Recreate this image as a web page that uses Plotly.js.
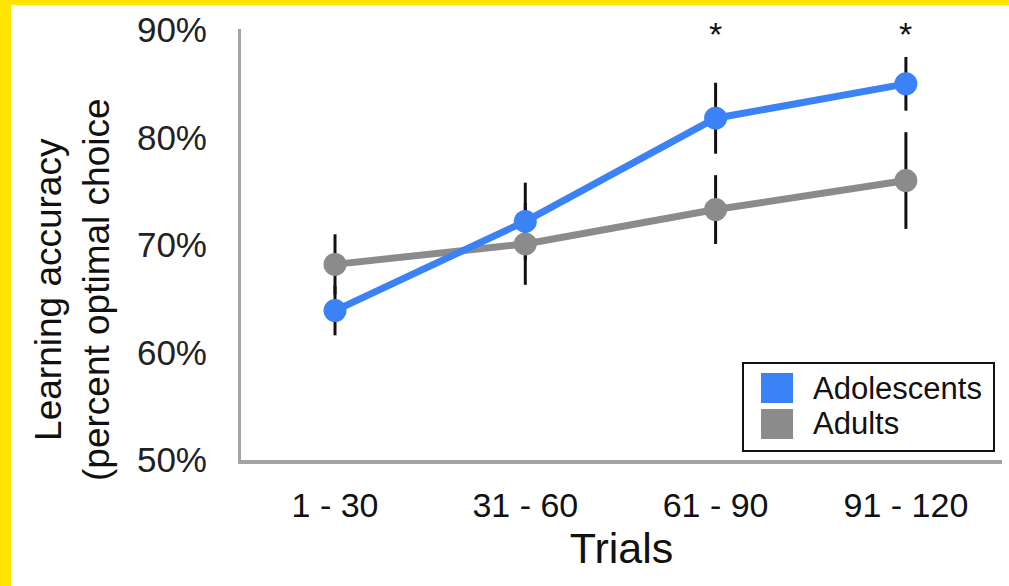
<!DOCTYPE html>
<html>
<head>
<meta charset="utf-8">
<script src="https://cdn.plot.ly/plotly-3.0.1.min.js"></script>
<style>
  html, body { margin: 0; padding: 0; background: #fff; }
  #wrap { position: relative; width: 1009px; height: 586px; overflow: hidden; }
  #chart { position: absolute; left: 0; top: 0; width: 1009px; height: 586px; }
  .yb { position: absolute; background: #FFE500; }
</style>
</head>
<body>
<div id="wrap">
  <div id="chart"></div>
  <div class="yb" style="left:0;top:0;width:1009px;height:5px;"></div>
  <div class="yb" style="left:0;top:0;width:11px;height:586px;"></div>
</div>
<script>
// ---- data ----
const categories = ['1 - 30', '31 - 60', '61 - 90', '91 - 120'];
const adolescents = [63.9, 72.2, 81.8, 85.0];
const adolescentsErr = [2.3, 3.6, 3.3, 2.5];
const adults = [68.2, 70.1, 73.3, 76.0];
const adultsErr = [2.8, 3.8, 3.2, 4.5];
const seriesNames = ['Adolescents', 'Adults'];
const yTickVals = [50, 60, 70, 80, 90];
const yTickText = ['50%', '60%', '70%', '80%', '90%'];
const significant = ['61 - 90', '91 - 120'];

const BLUE = '#3c82f7';
const GRAY = '#8b8b8b';
const FONT = 'Liberation Sans, Arial, Helvetica, sans-serif';

const traces = [
  // adolescents error bars (drawn underneath everything)
  {
    x: categories, y: adolescents, type: 'scatter', mode: 'markers',
    marker: { size: 1, color: 'rgba(0,0,0,0)' },
    error_y: { type: 'data', array: adolescentsErr, visible: true, color: '#111', thickness: 3, width: 0 },
    showlegend: false, hoverinfo: 'skip'
  },
  {
    x: categories, y: adults, type: 'scatter', mode: 'lines+markers', name: seriesNames[1],
    line: { color: GRAY, width: 7 },
    marker: { color: GRAY, size: 23 },
    error_y: { type: 'data', array: adultsErr, visible: true, color: '#111', thickness: 3, width: 0 },
    showlegend: false, hoverinfo: 'skip'
  },
  {
    x: categories, y: adolescents, type: 'scatter', mode: 'lines+markers', name: seriesNames[0],
    line: { color: BLUE, width: 7 },
    marker: { color: BLUE, size: 23 },
    showlegend: false, hoverinfo: 'skip'
  }
];

// px -> paper helpers for the hand-drawn legend box
const PL = 241, PR = 1002, PT = 29, PB = 460;
const px = v => (v - PL) / (PR - PL);
const py = v => (PB - v) / (PB - PT);

const shapes = [
  { type: 'rect', xref: 'paper', yref: 'paper', x0: px(743), x1: px(994), y0: py(451), y1: py(363),
    line: { color: '#111', width: 2 }, fillcolor: 'rgba(255,255,255,0)' },
  { type: 'rect', xref: 'paper', yref: 'paper', x0: px(761), x1: px(793), y0: py(403), y1: py(373),
    line: { width: 0 }, fillcolor: BLUE },
  { type: 'rect', xref: 'paper', yref: 'paper', x0: px(761), x1: px(793), y0: py(439), y1: py(409),
    line: { width: 0 }, fillcolor: GRAY }
];

const annotations = [
  { xref: 'paper', yref: 'paper', x: px(811), y: py(388), xanchor: 'left', yanchor: 'middle',
    text: seriesNames[0], showarrow: false, font: { family: FONT, size: 31, color: '#111' } },
  { xref: 'paper', yref: 'paper', x: px(811), y: py(423), xanchor: 'left', yanchor: 'middle',
    text: seriesNames[1], showarrow: false, font: { family: FONT, size: 31, color: '#111' } },
  { xref: 'paper', yref: 'paper', x: px(72), y: py(290), xanchor: 'center', yanchor: 'middle',
    textangle: -90, text: 'Learning accuracy<br>(percent optimal choice', showarrow: false,
    font: { family: FONT, size: 37, color: '#111' } }
].concat(significant.map(c => ({
  xref: 'x', yref: 'paper', x: c, y: py(34), xanchor: 'center', yanchor: 'middle',
  text: '*', showarrow: false, font: { family: FONT, size: 34, color: '#111' }
})));

const layout = {
  width: 1009, height: 586,
  margin: { l: PL, r: 1009 - PR, t: PT, b: 586 - PB, pad: 0 },
  paper_bgcolor: '#fff', plot_bgcolor: '#fff',
  showlegend: false,
  font: { family: FONT, color: '#111' },
  xaxis: {
    type: 'category', categoryorder: 'array', categoryarray: categories,
    range: [-0.494, 3.505], showgrid: false, zeroline: false,
    showline: true, linecolor: '#a3a3a3', linewidth: 4,
    ticks: 'outside', ticklen: 12, tickcolor: 'rgba(0,0,0,0)',
    tickfont: { family: FONT, size: 34, color: '#111' },
    title: { text: 'Trials', font: { family: FONT, size: 43, color: '#111' }, standoff: 4 }
  },
  yaxis: {
    range: [50, 90.1], tickvals: yTickVals, ticktext: yTickText,
    showgrid: false, zeroline: false,
    showline: true, linecolor: '#a3a3a3', linewidth: 3,
    ticks: 'outside', ticklen: 24, tickcolor: 'rgba(0,0,0,0)',
    tickfont: { family: FONT, size: 35, color: '#222' }
  },
  shapes: shapes,
  annotations: annotations
};

Plotly.newPlot('chart', traces, layout, { displayModeBar: false, staticPlot: true });
</script>
</body>
</html>
